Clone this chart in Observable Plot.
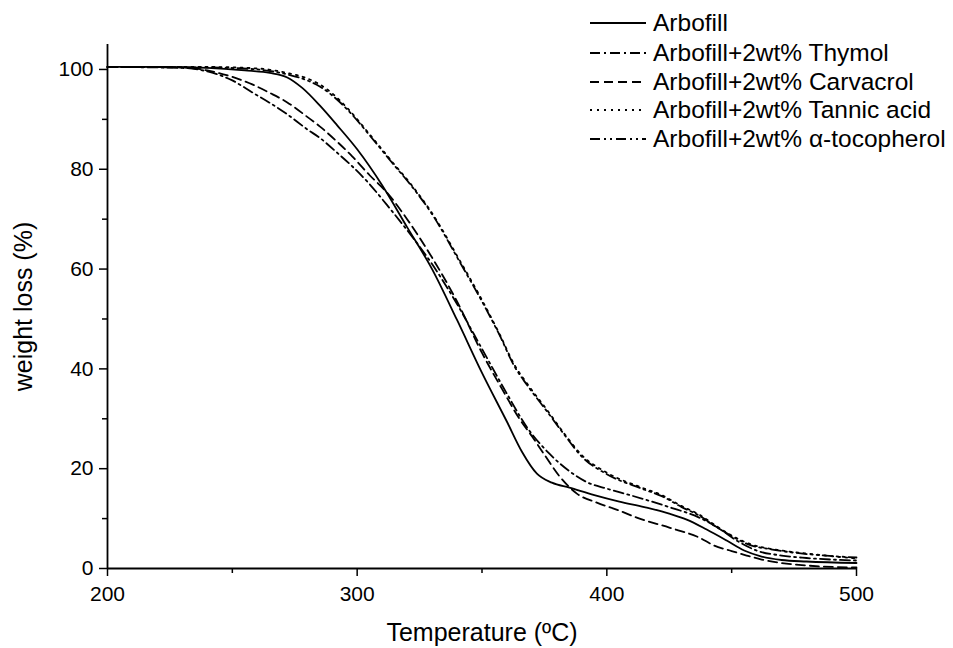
<!DOCTYPE html>
<html><head><meta charset="utf-8">
<script src="https://cdn.jsdelivr.net/npm/d3@7"></script>
<script src="https://cdn.jsdelivr.net/npm/@observablehq/plot@0.6"></script>
<style>
body{margin:0;background:#fff;}
#wrap{position:relative;width:953px;height:648px;font-family:"Liberation Sans",Arial,sans-serif;}
#legend{position:absolute;left:590px;top:0;}
.row{position:absolute;left:0;height:30px;display:flex;align-items:center;white-space:nowrap;font-size:24.5px;color:#000;}
.row svg{margin-right:7px;}
g[aria-label="y-axis label"] text, g[aria-label="x-axis label"] text{font-size:25px;}
</style></head>
<body><div id="wrap"><div id="chart"></div><div id="legend"></div></div>
<script>
const seriesNames = ["Arbofill", "Arbofill+2wt% Thymol", "Arbofill+2wt% Carvacrol", "Arbofill+2wt% Tannic acid", "Arbofill+2wt% α-tocopherol"];

const arbofillT = [200,220,240,255,265,272,278,285,292,300,310,320,330,340,350,360,366,372,378,385,395,405,415,425,432,440,448,455,462,470,480,500];
const arbofillW = [100.5,100.5,100.3,99.8,99.3,98.4,96.3,92.8,88.8,84.0,76.8,68.4,60.0,49.8,39.2,29.4,23.4,19.0,17.2,16.2,14.7,13.4,12.3,11.0,9.8,7.8,5.6,3.6,2.4,1.7,1.4,1.1];

const thymolT = [200,230,240,250,258,265,272,280,285,292,298,305,312,320,330,340,350,360,368,377,385,392,400,410,425,437,445,452,460,470,480,500];
const thymolW = [100.5,100.3,99.6,97.8,95.4,93.3,91.0,88.0,86.3,83.3,80.6,77.0,72.8,67.8,61.0,53.0,44.0,35.0,28.3,23.0,19.5,17.3,16.0,14.6,12.3,10.2,8.0,5.6,3.6,2.6,2.1,1.6];

const carvacrolT = [200,230,240,250,258,265,272,280,285,292,298,305,312,320,330,340,350,358,365,370,375,381,388,396,405,412,425,437,443,450,456,462,470,480,500];
const carvacrolW = [100.5,100.4,99.8,98.5,97.0,95.3,93.4,90.5,88.6,85.5,82.6,78.8,75.3,70.0,62.3,53.5,43.2,36.0,30.0,26.5,22.8,18.5,15.0,13.2,11.6,10.2,8.2,6.2,4.6,3.5,2.6,1.8,1.1,0.6,0.2];

const tannicT = [200,240,260,272,280,285,290,296,305,314,322,330,341,350,357,363,368,376,383,390,400,414,422,430,437,443,450,458,465,470,480,500];
const tannicW = [100.5,100.5,100.2,99.3,98.2,97.0,95.2,92.3,87.0,81.5,76.7,71.2,61.8,53.8,47.0,40.8,37.1,31.8,27.0,22.7,19.2,16.2,14.7,12.5,10.8,8.8,6.6,4.8,4.0,3.6,3.0,2.0];

const tocopherolT = [200,240,260,272,280,285,290,296,305,314,322,330,341,350,357,363,368,376,383,390,400,414,422,430,437,443,450,458,465,470,480,500];
const tocopherolW = [100.5,100.4,100.0,99.0,97.8,96.6,94.8,92.0,86.8,81.3,76.5,71.0,61.5,53.5,46.8,40.5,36.8,31.5,26.8,22.4,18.9,16.0,14.5,12.3,10.6,8.6,6.5,4.6,3.9,3.5,2.9,2.2];

const xMajor = [200,300,400,500];
const xMinor = [250,350,450];
const yMajor = [0,20,40,60,80,100];
const yMinor = [10,30,50,70,90];

const seriesT = [arbofillT, thymolT, carvacrolT, tannicT, tocopherolT];
const seriesW = [arbofillW, thymolW, carvacrolW, tannicW, tocopherolW];
const dashes = ["none", "10,4,2,4", "9,5", "2,5", "10,4,2,4,2,4"];

const tables = seriesNames.map((name, i) => seriesT[i].map((t, j) => ({series: name, T: t, W: seriesW[i][j]})));

const chart = Plot.plot({
  width: 953, height: 648,
  marginLeft: 107, marginRight: 97, marginTop: 44, marginBottom: 80,
  style: {fontFamily: "Liberation Sans, Arial, sans-serif", fontSize: "21px", color: "#000", background: "#fff", overflow: "visible"},
  x: {domain: [200, 500]},
  y: {domain: [0, 105]},
  marks: [
    Plot.axisX({ticks: xMajor, tickSize: 8, tickPadding: 10, tickFormat: d => String(d), label: "Temperature (ºC)", labelAnchor: "center", labelArrow: "none", labelOffset: 72, strokeWidth: 1.5}),
    Plot.axisX({ticks: xMinor, tickSize: 5, tickFormat: () => "", label: null, strokeWidth: 1.5}),
    Plot.axisY({ticks: yMajor, tickSize: 8, tickPadding: 6, tickFormat: d => String(d), label: "weight loss (%)", labelAnchor: "center", labelArrow: "none", labelOffset: 93, strokeWidth: 1.5}),
    Plot.axisY({ticks: yMinor, tickSize: 5, tickFormat: () => "", label: null, strokeWidth: 1.5}),
    Plot.ruleX([200], {stroke: "#000", strokeWidth: 1.8}),
    Plot.ruleY([0], {stroke: "#000", strokeWidth: 1.8}),
    ...tables.map((tb, i) => Plot.line(tb, {x: "T", y: "W", stroke: "#000", strokeWidth: 1.8, strokeDasharray: dashes[i] === "none" ? undefined : dashes[i], curve: "monotone-x"}))
  ]
});
document.getElementById("chart").appendChild(chart);

const legendCenters = [23, 53, 81.5, 110, 139];
const legend = document.getElementById("legend");
seriesNames.forEach((name, i) => {
  const row = document.createElement("div");
  row.className = "row";
  row.style.top = (legendCenters[i] - 15) + "px";
  const dash = dashes[i] === "none" ? "" : `stroke-dasharray="${dashes[i]}"`;
  row.innerHTML = `<svg width="56" height="10"><line x1="0" x2="56" y1="5" y2="5" stroke="#000" stroke-width="1.8" ${dash}/></svg><span>${name}</span>`;
  legend.appendChild(row);
});
</script></body></html>
